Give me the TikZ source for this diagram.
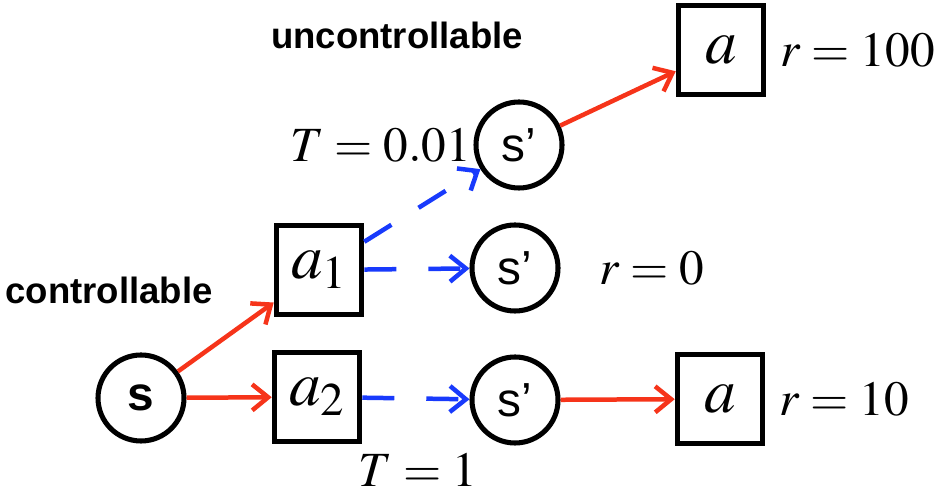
\documentclass[tikz,border=0pt]{standalone}
\usepackage{mathptmx}
\usepackage[no-math]{fontspec}
\setsansfont{Liberation Sans}
\usepackage{xcolor}
\usetikzlibrary{arrows.meta,positioning}
\definecolor{actred}{RGB}{246,52,26}
\definecolor{trblue}{RGB}{24,58,252}

\begin{document}
\begin{tikzpicture}[
  >={Straight Barb[length=4mm,width=6.5mm]},
  state/.style={circle, draw, line width=3.6pt, minimum size=21.5mm, inner sep=0pt, font=\sffamily\fontsize{34}{36}\selectfont},
  act/.style={rectangle, draw, line width=3.8pt, minimum width=21.3mm, minimum height=22.3mm, inner sep=0pt, font=\fontsize{45}{48}\selectfont},
  ctl/.style={->, line width=3.2pt, actred},
  env/.style={->, line width=3.2pt, trblue, dash pattern=on 8mm off 8mm},
  eq/.style={inner sep=0pt, font=\fontsize{35}{40}\selectfont},
  tag/.style={inner sep=0pt, font=\sffamily\bfseries\fontsize{26}{30}\selectfont}
]
\useasboundingbox (0,0) rectangle (23.65,12.45);

\node[state, font=\sffamily\bfseries\fontsize{34}{36}\selectfont] (s) at (3.525,2.5) {s};
\node[act] (a1) at (7.975,5.7) {$a_1$};
\node[act] (a2) at (7.925,2.525) {$a_2$};
\node[state] (sptop) at (12.975,8.825) {s’};
\node[state] (spmid) at (12.875,5.75) {s’};
\node[state] (spbot) at (12.875,2.45) {s’};
\node[act] (atop) at (18.025,11.2) {$a$};
\node[act] (abot) at (18.0,2.475) {$a$};

\node[tag] (unctl) at (9.925,11.575) {uncontrollable};
\node[tag] (ctl) at (2.725,5.2) {controllable};
\node[eq, left=0.5mm of sptop] (tlow) {$T = 0.01$};
\node[eq] (tone) at (10.45,0.7) {$T = 1$};
\node[eq] (rzero) at (16.3,5.75) {$r = 0$};
\node[eq, right=3.5mm of atop] (rhigh) {$r = 100$};
\node[eq, right=3.5mm of abot] (rmid) {$r = 10$};

\draw[ctl] (s) -- (a1);
\draw[ctl] (s) -- (a2);
\draw[env] (a1) -- (sptop);
\draw[env] (a1) -- (spmid);
\draw[env] (a2) -- (spbot);
\draw[ctl] (sptop) -- (atop);
\draw[ctl] (spbot) -- (abot);
\end{tikzpicture}
\end{document}
